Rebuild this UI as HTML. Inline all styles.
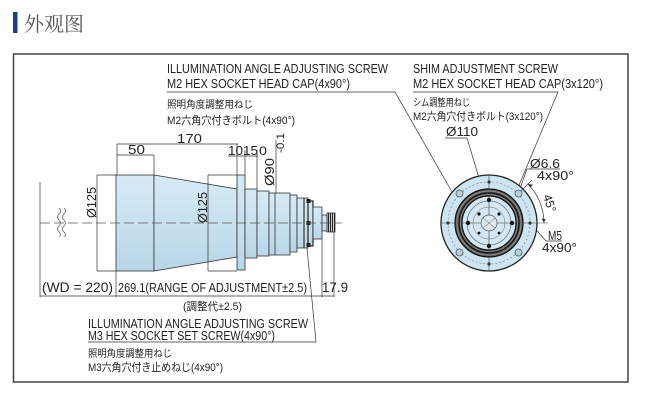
<!DOCTYPE html>
<html><head><meta charset="utf-8">
<style>
html,body{margin:0;padding:0;background:#fff;}
svg{display:block;}
text{font-family:"Liberation Sans","Noto Sans CJK JP",sans-serif;fill:#222;}
.jp{font-family:"Liberation Sans","Noto Sans CJK JP",sans-serif;}
</style></head>
<body>
<svg width="648" height="400" viewBox="0 0 648 400" xmlns="http://www.w3.org/2000/svg">
<defs>
<linearGradient id="bg" x1="0" y1="0" x2="0" y2="1">
<stop offset="0" stop-color="#d6eaf5"/><stop offset="0.5" stop-color="#c8e1ef"/><stop offset="1" stop-color="#b9d6e7"/>
</linearGradient>
</defs>
<!-- title -->
<rect x="13" y="12" width="4.5" height="21" fill="#1e3f7c"/>
<text x="24" y="31" style="font-family:'Noto Serif CJK SC','Noto Sans CJK SC',serif;font-size:20px;fill:#555">外观图</text>
<!-- frame -->
<rect x="13.5" y="54" width="614.5" height="328" fill="none" stroke="#444" stroke-width="1.5"/>

<g stroke="#333" stroke-width="0.8" fill="none">
<!-- lens body -->
<rect x="116" y="175" width="38" height="96" fill="url(#bg)"/>
<path d="M154,175 L237,189 L237,257 L154,271 Z" fill="url(#bg)"/>
<rect x="237" y="175" width="8" height="95" fill="url(#bg)"/>
<rect x="245" y="189" width="12" height="69" fill="url(#bg)"/>
<rect x="257" y="191" width="12" height="65" fill="url(#bg)"/>
<rect x="269" y="193" width="21" height="62" fill="url(#bg)"/>
<rect x="290" y="195" width="7" height="57" fill="url(#bg)"/>
<rect x="297" y="198" width="11" height="50" fill="url(#bg)"/>
<rect x="308" y="201" width="5" height="45" fill="url(#bg)" stroke="#222" stroke-width="1.2"/>
<rect x="313" y="207" width="9" height="32" fill="url(#bg)"/>
<rect x="322" y="215" width="5" height="16" fill="url(#bg)"/>
<rect x="327" y="213" width="8" height="19" fill="#c9d5dc"/>
<line x1="275" y1="193" x2="275" y2="255"/>
<line x1="304" y1="198" x2="304" y2="248" stroke-width="1.2"/>
</g>
<g fill="#222">
<rect x="306.5" y="199" width="4" height="4"/><rect x="306.5" y="243" width="4" height="4"/>
<rect x="306.5" y="221" width="4" height="4"/>
<rect x="328" y="213" width="1" height="19"/><rect x="330" y="213" width="1" height="19"/>
<rect x="332" y="213" width="1" height="19"/><rect x="334" y="213" width="1" height="19"/>
</g>
<!-- centerline -->
<line x1="40" y1="223" x2="342" y2="223" stroke="#555" stroke-width="0.7" stroke-dasharray="10 4"/>
<!-- wavy break marks -->
<g stroke="#555" stroke-width="0.7" fill="none">
<path d="M59,208 q3,3 0,6 q-3,3 0,6 q3,3 0,6 q-3,3 0,6 q3,3 0,5"/>
<path d="M64,208 q3,3 0,6 q-3,3 0,6 q3,3 0,6 q-3,3 0,6 q3,3 0,5"/>
</g>

<!-- dimension lines -->
<g stroke="#333" stroke-width="0.7" fill="none">
<line x1="40" y1="182" x2="40" y2="297"/>
<line x1="116" y1="271" x2="116" y2="297"/>
<line x1="40" y1="296" x2="334" y2="296"/>
<line x1="322" y1="239" x2="322" y2="297"/>
<line x1="334" y1="232" x2="334" y2="297"/>
<!-- 170 / 50 -->
<line x1="117" y1="144" x2="238" y2="144"/>
<line x1="117" y1="144" x2="117" y2="175"/>
<line x1="117" y1="155" x2="154" y2="155"/>
<line x1="154" y1="155" x2="154" y2="175"/>
<line x1="228" y1="156" x2="258" y2="156"/>
<line x1="237" y1="144" x2="237" y2="175"/>
<line x1="245" y1="150" x2="245" y2="175"/>
<line x1="257" y1="150" x2="257" y2="189"/>
<line x1="276" y1="140" x2="276" y2="193"/>
<!-- O125 left -->
<line x1="97" y1="175" x2="97" y2="271"/>
<line x1="97" y1="175" x2="116" y2="175"/>
<line x1="97" y1="271" x2="116" y2="271"/>
<!-- O125 second -->
<line x1="208" y1="175" x2="208" y2="271"/>
<line x1="208" y1="175" x2="237" y2="175"/>
<line x1="208" y1="271" x2="237" y2="271"/>
<!-- leaders -->
<polyline points="167,92 395,92 452,192"/>
<polyline points="88,342 316,342 307,248"/>
<polyline points="413,92 558,92 517,190"/>
<polyline points="445,138 467,138 479,178"/>
<polyline points="560,169 527,169 518,194"/>
<polyline points="562,241 546,241 531,224"/>
</g>

<!-- front view circle -->
<g transform="translate(489,223)">
<circle r="48" fill="#cde5f2" stroke="#222" stroke-width="1.3"/>
<circle r="41" fill="none" stroke="#777" stroke-width="0.6" stroke-dasharray="2 2"/>
<line x1="-48" y1="0" x2="59" y2="0" stroke="#444" stroke-width="0.6"/>
<line x1="0" y1="-48" x2="0" y2="48" stroke="#444" stroke-width="0.6"/>
<g fill="#b9cfdc" stroke="#555" stroke-width="0.8">
<circle cx="-29.5" cy="-29.5" r="3.5"/><circle cx="29.5" cy="-29.5" r="3.5"/>
<circle cx="-29.5" cy="29.5" r="3.5"/><circle cx="29.5" cy="29.5" r="3.5"/>
</g>
<g fill="#333">
<circle cx="0" cy="-41" r="1.6"/><circle cx="0" cy="41" r="1.6"/>
<circle cx="-41" cy="0" r="1.6"/><circle cx="41" cy="0" r="1.6"/>
</g>
<circle r="34" fill="#5a5a5a" stroke="#111" stroke-width="1.2"/>
<circle r="32" fill="none" stroke="#999" stroke-width="0.8"/>
<circle r="30" fill="none" stroke="#111" stroke-width="1.2"/>
<circle r="28.5" fill="none" stroke="#888" stroke-width="0.8"/>
<circle r="27" fill="#d3e8f4" stroke="#111" stroke-width="1.2"/>
<circle r="22" fill="none" stroke="#555" stroke-width="0.6"/>
<circle r="16" fill="none" stroke="#666" stroke-width="0.5"/>
<line x1="-27" y1="0" x2="27" y2="0" stroke="#444" stroke-width="0.6"/>
<line x1="0" y1="-27" x2="0" y2="27" stroke="#444" stroke-width="0.6"/>
<g fill="#111">
<circle cx="0" cy="-23" r="2.2"/><circle cx="0" cy="23" r="2.2"/>
<circle cx="-21" cy="0" r="2.2"/><circle cx="23" cy="0" r="2.2"/>
<circle cx="-10" cy="-9" r="1.6"/><circle cx="10" cy="-9" r="1.6"/>
<circle cx="-10" cy="10" r="1.4"/><circle cx="10" cy="10" r="1.4"/>
</g>
<circle r="8" fill="#dde8ee" stroke="#555" stroke-width="0.7"/>
<g stroke="#555" stroke-width="0.5">
<line x1="-6" y1="-5" x2="6" y2="5"/><line x1="-6" y1="5" x2="6" y2="-5"/>
</g>
<!-- 45 deg dim -->
<line x1="32" y1="-32" x2="43" y2="-43" stroke="#333" stroke-width="0.6"/>
<path d="M38.9,-38.9 A55,55 0 0,1 55,0" fill="none" stroke="#333" stroke-width="0.7"/>
<path d="M38.9,-38.9 l5,0.5 l-2.5,3 z" fill="#333"/>
<path d="M55,0 l-2.5,-4.5 l4,0.5 z" fill="#333"/>
</g>

<!-- texts: top left -->
<text x="167" y="73" font-size="13" textLength="221" lengthAdjust="spacingAndGlyphs">ILLUMINATION ANGLE ADJUSTING SCREW</text>
<text x="167" y="88" font-size="13" textLength="183" lengthAdjust="spacingAndGlyphs">M2 HEX SOCKET HEAD CAP(4x90°)</text>
<text x="167" y="108" font-size="10" textLength="86" lengthAdjust="spacingAndGlyphs">照明角度調整用ねじ</text>
<text x="167" y="124" font-size="11" textLength="128" lengthAdjust="spacingAndGlyphs">M2六角穴付きボルト(4x90°)</text>

<text x="177" y="143" font-size="13" textLength="25" lengthAdjust="spacingAndGlyphs">170</text>
<text x="128" y="154" font-size="13" textLength="17" lengthAdjust="spacingAndGlyphs">50</text>
<text x="228" y="155" font-size="13" textLength="30" lengthAdjust="spacingAndGlyphs">1015</text>
<text x="259" y="155" font-size="12" textLength="8" lengthAdjust="spacingAndGlyphs">0</text>
<text transform="translate(284,153) rotate(-90)" font-size="11" textLength="20" lengthAdjust="spacingAndGlyphs">-0.1</text>
<text transform="translate(274,186) rotate(-90)" font-size="13" textLength="28" lengthAdjust="spacingAndGlyphs">Ø90</text>
<text transform="translate(96,218) rotate(-90)" font-size="13" textLength="31" lengthAdjust="spacingAndGlyphs">Ø125</text>
<text transform="translate(207,223) rotate(-90)" font-size="13" textLength="31" lengthAdjust="spacingAndGlyphs">Ø125</text>

<!-- bottom texts -->
<text x="42" y="292" font-size="14" textLength="71" lengthAdjust="spacingAndGlyphs">(WD = 220)</text>
<text x="118" y="292" font-size="13" textLength="189" lengthAdjust="spacingAndGlyphs">269.1(RANGE OF ADJUSTMENT±2.5)</text>
<text x="322" y="292" font-size="14" textLength="26" lengthAdjust="spacingAndGlyphs">17.9</text>
<text x="183" y="310" font-size="11" textLength="59" lengthAdjust="spacingAndGlyphs">(調整代±2.5)</text>
<text x="88" y="328" font-size="13" textLength="220" lengthAdjust="spacingAndGlyphs">ILLUMINATION ANGLE ADJUSTING SCREW</text>
<text x="88" y="340" font-size="13" textLength="187" lengthAdjust="spacingAndGlyphs">M3 HEX SOCKET SET SCREW(4x90°)</text>
<text x="88" y="357" font-size="10" textLength="84" lengthAdjust="spacingAndGlyphs">照明角度調整用ねじ</text>
<text x="88" y="371" font-size="11" textLength="135" lengthAdjust="spacingAndGlyphs">M3六角穴付き止めねじ(4x90°)</text>

<!-- right texts -->
<text x="413" y="73" font-size="13" textLength="145" lengthAdjust="spacingAndGlyphs">SHIM ADJUSTMENT SCREW</text>
<text x="413" y="88" font-size="13" textLength="190" lengthAdjust="spacingAndGlyphs">M2 HEX SOCKET HEAD CAP(3x120°)</text>
<text x="413" y="106" font-size="10" textLength="57" lengthAdjust="spacingAndGlyphs">シム調整用ねじ</text>
<text x="413" y="120" font-size="11" textLength="130" lengthAdjust="spacingAndGlyphs">M2六角穴付きボルト(3x120°)</text>
<text x="446" y="136" font-size="13" textLength="32" lengthAdjust="spacingAndGlyphs">Ø110</text>
<text x="530" y="168" font-size="13" textLength="30" lengthAdjust="spacingAndGlyphs">Ø6.6</text>
<text x="537" y="180" font-size="13" textLength="37" lengthAdjust="spacingAndGlyphs">4x90°</text>
<text transform="translate(543,196) rotate(72)" font-size="12" textLength="18" lengthAdjust="spacingAndGlyphs">45°</text>
<text x="548" y="240" font-size="13" textLength="14" lengthAdjust="spacingAndGlyphs">M5</text>
<text x="542" y="252" font-size="13" textLength="35" lengthAdjust="spacingAndGlyphs">4x90°</text>
</svg>
</body></html>
